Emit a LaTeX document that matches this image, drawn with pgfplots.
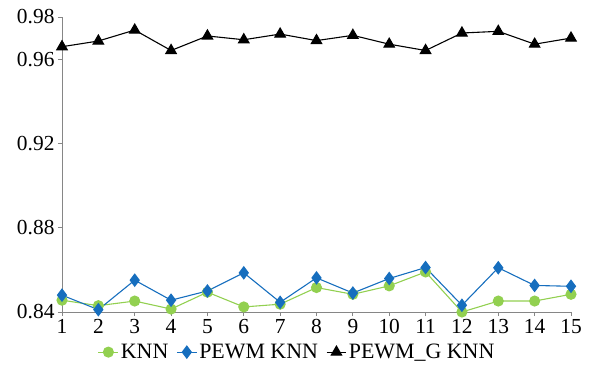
\documentclass[border=0pt]{standalone}
\usepackage{fontspec}
\setmainfont{Liberation Serif}
\newfontfamily\tnr{Liberation Serif}
\usepackage{pgfplots}
\pgfplotsset{compat=1.18}
\definecolor{knngreen}{RGB}{146,208,80}
\definecolor{pewmblue}{RGB}{22,110,190}
\definecolor{axgray}{RGB}{134,134,134}
\begin{document}
\begin{tikzpicture}
\path[use as bounding box] (-62bp,-63bp) rectangle (529bp,312bp);
\begin{axis}[
  at={(0,0)}, anchor=south west,
  scale only axis, width=509bp, height=295bp,
  xmin=1, xmax=15, ymin=0.84, ymax=0.98,
  xtick={1,...,15},
  ytick={0.84,0.88,0.92,0.96,0.98},
  axis x line*=bottom, axis y line*=left,
  axis line style={axgray, line width=0.8pt, -},
  tick style={axgray, line width=0.8pt},
  tick align=outside, major tick length=4bp,
  tick label style={font=\tnr\fontsize{21.5}{24}\selectfont},
  /pgf/number format/assume math mode=true,
  yticklabel style={/pgf/number format/fixed, /pgf/number format/precision=2, /pgf/number format/fixed zerofill},
  legend style={draw=none, fill=none, font=\tnr\fontsize{22}{24}\selectfont,
    at={(rel axis cs:0.462,-0.136)}, anchor=center, legend columns=3,
    /tikz/every even column/.append style={column sep=6bp}},
  legend image code/.code={
    \draw[mark repeat=2,mark phase=2] plot coordinates {(0cm,0cm) (0.35cm,0cm) (0.7cm,0cm)};},
  clip=false,
]
\addplot[knngreen, line width=1.1pt, mark=*, mark size=5bp, mark options={fill=knngreen, draw=knngreen}]
coordinates {(1,0.8456) (2,0.8430) (3,0.8452) (4,0.8414) (5,0.8494) (6,0.8424) (7,0.8437) (8,0.8516) (9,0.8484) (10,0.8524) (11,0.8590) (12,0.8400) (13,0.8452) (14,0.8452) (15,0.8484)};
\addlegendentry{KNN}
\addplot[pewmblue, line width=1.1pt, mark=diamond*, mark size=6bp, mark options={fill=pewmblue, draw=pewmblue}]
coordinates {(1,0.8480) (2,0.8411) (3,0.8551) (4,0.8456) (5,0.8500) (6,0.8586) (7,0.8446) (8,0.8562) (9,0.8490) (10,0.8559) (11,0.8611) (12,0.8432) (13,0.8610) (14,0.8526) (15,0.8522)};
\addlegendentry{PEWM KNN}
\addplot[black, line width=1.1pt, mark=triangle*, mark size=6bp, mark options={fill=black, draw=black}]
coordinates {(1,0.9659) (2,0.9686) (3,0.9738) (4,0.9641) (5,0.9710) (6,0.9692) (7,0.9719) (8,0.9688) (9,0.9713) (10,0.9671) (11,0.9641) (12,0.9724) (13,0.9732) (14,0.9671) (15,0.9700)};
\addlegendentry{PEWM\_G KNN}
\end{axis}
\end{tikzpicture}
\end{document}
